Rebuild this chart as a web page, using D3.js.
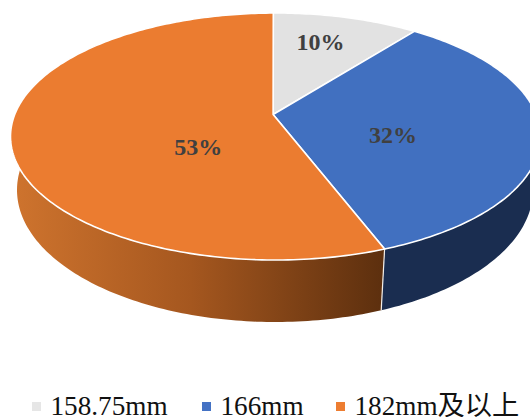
<!DOCTYPE html>
<html>
<head>
<meta charset="utf-8">
<script src="https://cdn.jsdelivr.net/npm/d3@7"></script>
<style>
  body { margin: 0; background: #fff; }
  svg { display: block; }
  text { font-family: "Liberation Serif", "Noto Sans CJK SC", serif; }
</style>
</head>
<body>
<div id="chart"></div>
<script>
const categories = ["158.75mm", "166mm", "182mm及以上"];
const values = [10, 32, 53];
const labels = ["10%", "32%", "53%"];
const topColors = ["#e2e2e2", "#4170c0", "#eb7c30"];
const sideColors = ["#8a8a8a", "#1a2d50", "url(#orangeSide)"];
const legendColors = ["#e6e6e6", "#4472c4", "#ed7d31"];

const width = 530;
const height = 417;

// the tilted disc: top face, and the rim of the underside
const topFace = { cx: 275.5, cy: 136.5, rx: 265, ry: 123.5 };
const underFace = { cx: 275, cy: 190, rx: 258, ry: 132 };
// perspective moves the pie's apex away from the ellipse's centre
const skewX = -0.009;
const skewY = 0.178;

const labelRadius = [0.6, 0.45, 0.29];
const labelNudgeX = [1, 2, 0];
const labelNudgeY = [-3, 20, 34];
const legendX = [32, 202, 336];

const svg = d3
  .select("#chart")
  .append("svg")
  .attr("width", width)
  .attr("height", height);

const gradient = svg
  .append("defs")
  .append("linearGradient")
  .attr("id", "orangeSide")
  .attr("gradientUnits", "userSpaceOnUse")
  .attr("x1", 11)
  .attr("x2", 385)
  .attr("y1", 0)
  .attr("y2", 0);
gradient.append("stop").attr("offset", "0%").attr("stop-color", "#cf742e");
gradient.append("stop").attr("offset", "48%").attr("stop-color", "#a5571f");
gradient.append("stop").attr("offset", "100%").attr("stop-color", "#5c2f0e");

const arcs = d3.pie().sort(null)(values);

// angle (clockwise from 12 o'clock) and radius to a point on a face
function project(face, angle, r = 1) {
  const u = r * Math.sin(angle);
  const v = r * Math.cos(angle);
  const dot = u * skewX + v * skewY;
  const k2 = skewX * skewX + skewY * skewY;
  const s = Math.sqrt(1 - k2);
  const par = 1 + dot / k2 - (s * dot) / k2;
  const denom = 1 + dot;
  const px = (s * u + par * skewX) / denom;
  const py = (s * v + par * skewY) / denom;
  return [face.cx + face.rx * px, face.cy - face.ry * py];
}

function rim(face, a0, a1) {
  const n = Math.max(2, Math.ceil((a1 - a0) * 60));
  return d3.range(n + 1).map((i) => project(face, a0 + ((a1 - a0) * i) / n));
}

const line = d3.line();

// sides first, top face is painted over them
svg
  .selectAll(".side")
  .data(arcs)
  .enter()
  .append("path")
  .attr("class", "side")
  .attr("fill", (d, i) => sideColors[i])
  .attr("d", (d) =>
    line(
      rim(topFace, d.startAngle, d.endAngle).concat(
        rim(underFace, d.startAngle, d.endAngle).reverse()
      )
    ) + "Z"
  );

svg
  .selectAll(".seam")
  .data(arcs.filter((d) => Math.cos(d.startAngle) < 0))
  .enter()
  .append("path")
  .attr("class", "seam")
  .attr("stroke", "#f4efe9")
  .attr("stroke-width", 1.2)
  .attr("d", (d) =>
    line([project(topFace, d.startAngle), project(underFace, d.startAngle)])
  );

svg
  .selectAll(".slice")
  .data(arcs)
  .enter()
  .append("path")
  .attr("class", "slice")
  .attr("fill", (d, i) => topColors[i])
  .attr("stroke", "#fff")
  .attr("stroke-width", 1.6)
  .attr("stroke-linejoin", "round")
  .attr("d", (d) =>
    line(
      [project(topFace, 0, 0)].concat(rim(topFace, d.startAngle, d.endAngle))
    ) + "Z"
  );

svg
  .selectAll(".label")
  .data(arcs)
  .enter()
  .append("text")
  .attr("class", "label")
  .attr("text-anchor", "middle")
  .attr("font-size", 24)
  .attr("font-weight", "bold")
  .attr("fill", "#404040")
  .attr("transform", (d, i) => {
    const p = project(topFace, (d.startAngle + d.endAngle) / 2, labelRadius[i]);
    return `translate(${p[0] + labelNudgeX[i]},${p[1] + labelNudgeY[i]})`;
  })
  .text((d, i) => labels[i]);

const legend = svg
  .selectAll(".legend")
  .data(categories)
  .enter()
  .append("g")
  .attr("class", "legend")
  .attr("transform", (d, i) => `translate(${legendX[i]}, 415)`);

legend
  .append("rect")
  .attr("y", -13)
  .attr("width", 9)
  .attr("height", 9)
  .attr("fill", (d, i) => legendColors[i]);

legend
  .append("text")
  .attr("x", 18.5)
  .attr("font-size", 27.2)
  .attr("fill", "#111")
  .text((d) => d);
</script>
</body>
</html>
